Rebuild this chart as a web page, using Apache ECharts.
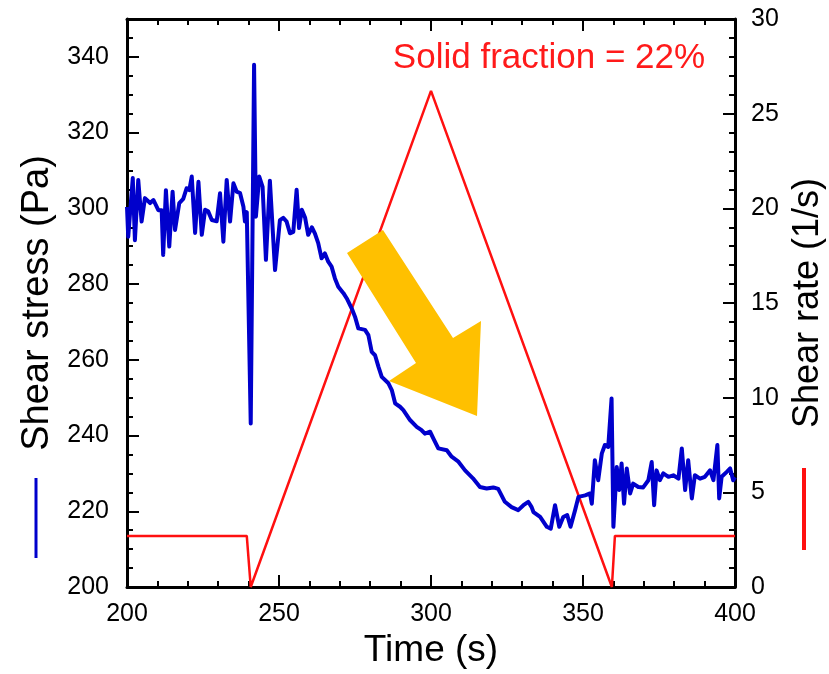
<!DOCTYPE html>
<html>
<head>
<meta charset="utf-8">
<script src="https://cdn.jsdelivr.net/npm/echarts@6/dist/echarts.min.js"></script>
<style>
  html, body { margin: 0; padding: 0; background: #fff; }
  #chart { width: 829px; height: 674px; }
</style>
</head>
<body>
<div id="chart"></div>
<script>
// shear stress (Pa) vs time (s)
var stressTime = [
  200.0, 200.4, 201.9, 202.6, 203.7, 204.8, 205.9, 207.6, 208.7, 210.3,
  211.4, 211.9, 212.8, 213.9, 215.0, 215.8, 217.2, 218.5, 219.6, 220.5,
  221.3, 222.4, 223.5, 224.6, 225.7, 226.7, 227.9, 229.5, 230.6, 231.7,
  232.8, 233.9, 235.0, 236.1, 237.2, 238.3, 238.8, 239.4, 239.9, 240.7,
  241.8, 242.4, 243.5, 244.6, 245.7, 247.0, 248.7, 250.3, 251.4, 252.5,
  253.6, 254.7, 255.8, 256.6, 257.5, 258.6, 259.6, 260.8, 261.8, 262.9,
  264.0, 265.1, 266.2, 267.3, 268.4, 269.5, 271.2, 272.3, 273.9, 275.0,
  276.1, 278.3, 279.4, 280.5, 281.6, 282.7, 283.8, 286.0, 287.1, 288.2,
  289.8, 290.9, 293.1, 295.3, 296.9, 298.0, 299.7, 300.8, 302.4, 305.2,
  306.8, 308.9, 311.2, 313.8, 316.1, 318.3, 320.5, 322.1, 324.3, 326.5,
  328.7, 330.4, 332.0, 333.1, 333.7, 335.9, 338.1, 339.4, 340.8, 342.2,
  343.5, 344.8, 345.9, 347.4, 348.5, 350.7, 352.3, 352.9, 353.9, 355.0,
  356.2, 357.2, 358.3, 359.4, 360.0, 361.1, 361.9, 362.7, 363.5, 364.4,
  365.5, 366.5, 368.2, 369.8, 371.5, 372.6, 373.4, 374.2, 375.3, 376.4,
  378.1, 379.7, 381.4, 382.5, 383.6, 384.6, 385.8, 386.8, 388.5, 390.1,
  391.8, 392.9, 394.2, 394.8, 395.6, 397.3, 398.4, 399.4, 400.0
];
var stressValue = [
  300.4, 292.5, 308.0, 291.6, 307.5, 296.5, 302.7, 301.4, 302.2, 299.5,
  299.5, 287.7, 304.8, 289.9, 304.4, 294.3, 301.4, 302.5, 305.3, 304.8,
  308.4, 293.5, 307.0, 293.0, 299.6, 299.2, 296.9, 296.6, 304.0, 291.2,
  307.5, 296.5, 306.6, 304.4, 304.0, 300.4, 296.5, 299.0, 298.5, 243.2,
  337.9, 297.8, 308.4, 305.7, 286.4, 307.3, 283.7, 296.9, 297.5, 296.5,
  293.4, 293.8, 304.9, 294.8, 299.6, 297.5, 293.0, 295.0, 293.4, 290.8,
  286.8, 288.1, 285.9, 284.6, 281.5, 279.3, 277.6, 276.2, 273.6, 271.4,
  268.3, 267.9, 266.5, 262.1, 261.2, 258.2, 255.5, 253.8, 252.0, 248.5,
  247.6, 246.7, 244.1, 242.3, 241.4, 240.5, 241.0, 239.2, 236.6, 236.1,
  234.4, 233.2, 230.8, 228.7, 226.4, 226.0, 226.3, 225.9, 222.5, 221.1,
  220.3, 221.6, 222.5, 221.1, 219.8, 218.5, 215.9, 215.4, 221.6, 215.9,
  218.5, 219.0, 215.9, 220.3, 223.8, 224.2, 224.7, 222.0, 233.5, 228.2,
  235.3, 237.5, 237.0, 249.8, 215.9, 231.7, 225.6, 232.6, 222.0, 231.3,
  224.7, 227.3, 226.4, 226.3, 228.2, 233.0, 221.6, 230.8, 228.2, 230.0,
  229.1, 229.5, 228.6, 236.6, 225.6, 233.5, 223.4, 229.5, 228.6, 229.1,
  230.8, 228.2, 237.5, 223.4, 229.1, 230.4, 231.3, 228.2, 229.0
];

// shear rate (1/s) vs time (s)
var rateTime = [200, 239.4, 240.7, 300, 359.5, 360.5, 400];
var rateValue = [2.7, 2.7, 0, 26.2, 0, 2.7, 2.7];

var stressData = stressTime.map(function (t, i) { return [t, stressValue[i]]; });
var rateData = rateTime.map(function (t, i) { return [t, rateValue[i]]; });

var FONT = 'Liberation Sans, Arial, Helvetica, sans-serif';
var INK = '#000';

var chart = echarts.init(document.getElementById('chart'), null, { renderer: 'canvas' });

var frameLine = { show: true, lineStyle: { color: INK, width: 3 } };
var majorTick = { inside: true, length: 12, lineStyle: { color: INK, width: 2 } };
var minorTick = { show: true, splitNumber: 5, length: 6, lineStyle: { color: INK, width: 2 } };

var option = {
  animation: false,
  backgroundColor: '#fff',
  grid: { left: 127, right: 94, top: 19, bottom: 87, outerBoundsMode: 'none', containLabel: false },
  xAxis: [
    {
      type: 'value', position: 'bottom', min: 200, max: 400, interval: 50,
      axisLine: frameLine, axisTick: majorTick, minorTick: minorTick,
      axisLabel: { fontFamily: FONT, fontSize: 25, color: INK, margin: 15 },
      splitLine: { show: false },
      name: 'Time (s)', nameLocation: 'middle', nameGap: 29,
      nameTextStyle: { fontFamily: FONT, fontSize: 37, color: INK, verticalAlign: 'top' }
    },
    {
      type: 'value', position: 'top', min: 200, max: 400, interval: 50,
      axisLine: frameLine, axisTick: majorTick, minorTick: minorTick,
      axisLabel: { show: false },
      splitLine: { show: false }
    }
  ],
  yAxis: [
    {
      type: 'value', position: 'left', min: 200, max: 350, interval: 20,
      axisLine: frameLine, axisTick: majorTick,
      axisLabel: {
        fontFamily: FONT, fontSize: 25, color: INK, margin: 18,
        formatter: function (v) { return v % 20 === 0 ? String(v) : ''; }
      },
      splitLine: { show: false },
      name: 'Shear stress (Pa)', nameLocation: 'middle', nameGap: 70, nameRotate: 90,
      nameTextStyle: { fontFamily: FONT, fontSize: 38, color: INK }
    },
    {
      type: 'value', position: 'left', min: 200, max: 350, interval: 5,
      axisLine: { show: false },
      axisTick: { inside: true, length: 6, lineStyle: { color: INK, width: 2 } },
      axisLabel: { show: false },
      splitLine: { show: false }
    },
    {
      type: 'value', position: 'right', min: 0, max: 30, interval: 5,
      axisLine: frameLine, axisTick: majorTick, minorTick: minorTick,
      axisLabel: { fontFamily: FONT, fontSize: 25, color: INK, margin: 16 },
      splitLine: { show: false },
      name: 'Shear rate (1/s)', nameLocation: 'middle', nameGap: 55, nameRotate: 90,
      nameTextStyle: { fontFamily: FONT, fontSize: 36, color: INK }
    }
  ],
  series: [
    {
      name: 'Shear rate', type: 'line', xAxisIndex: 0, yAxisIndex: 2,
      data: rateData, showSymbol: false, symbol: 'none', z: 2,
      lineStyle: { color: '#ff1010', width: 2.5 }
    },
    {
      name: 'Shear stress', type: 'line', xAxisIndex: 0, yAxisIndex: 0,
      data: stressData, showSymbol: false, symbol: 'none', z: 3,
      lineStyle: { color: '#0000cc', width: 4, join: 'round' }
    }
  ],
  graphic: [
    // yellow arrow
    {
      type: 'polygon', z: 100,
      shape: { points: [[347, 253], [383, 230], [453, 338], [481, 321], [477, 416], [389, 381], [416, 363]] },
      style: { fill: '#ffc000' }
    },
    {
      type: 'text', z: 100, x: 549, y: 58,
      style: { text: 'Solid fraction = 22%', fill: '#ff1a1a', font: '35px ' + FONT, textAlign: 'center', textVerticalAlign: 'middle' }
    },
    // colour keys next to the axis titles
    { type: 'line', shape: { x1: 36, y1: 478, x2: 36, y2: 558 }, style: { stroke: '#0000cc', lineWidth: 3 } },
    { type: 'line', shape: { x1: 804, y1: 468, x2: 804, y2: 550 }, style: { stroke: '#ff1010', lineWidth: 4 } }
  ]
};

chart.setOption(option);
</script>
</body>
</html>
